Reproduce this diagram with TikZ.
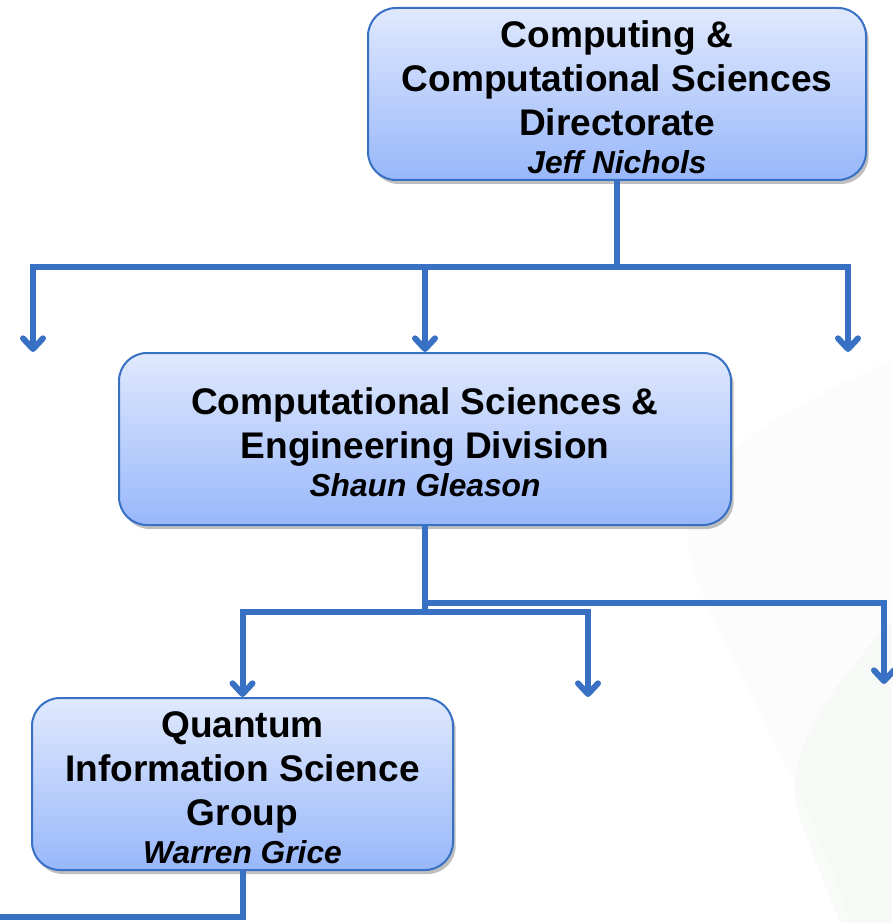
\documentclass[tikz,border=0pt]{standalone}
\usepackage{fontspec}
\setmainfont{Liberation Sans}
\usetikzlibrary{arrows.meta,shadows}
\definecolor{orgblue}{RGB}{56,112,196}
\definecolor{boxtop}{RGB}{224,233,253}
\definecolor{boxbottom}{RGB}{152,183,250}
\definecolor{swoosh}{RGB}{200,216,200}
\newcommand{\unitfont}{\fontsize{27.8}{33}\selectfont\bfseries}
\newcommand{\headname}{\fontsize{23.8}{29}\selectfont\bfseries\itshape}
\newcommand{\topgap}{\rule{0pt}{25pt}}
\tikzset{
  orgbox/.style={draw=orgblue, line width=1.5pt, rounded corners=21pt,
    top color=boxtop, bottom color=boxbottom, minimum height=129pt,
    inner sep=0pt, align=center, font=\unitfont,
    drop shadow={shadow xshift=2pt, shadow yshift=-3pt, opacity=0.25, fill=black}},
  conn/.style={draw=orgblue, line width=4.5pt},
  arr/.style={conn, -{Straight Barb[length=8pt,width=15pt,round]}}
}
\begin{document}
\begin{tikzpicture}[x=0.75pt,y=-0.75pt]
  \useasboundingbox (0,0) rectangle (892,923);
  % faint background swoosh
  \fill[swoosh, opacity=0.07] (892,360) .. controls (760,420) and (650,480) .. (700,590)
    .. controls (760,720) and (820,820) .. (850,923) -- (892,923) -- cycle;
  \fill[swoosh, opacity=0.1] (892,620) .. controls (820,700) and (780,760) .. (800,820)
    .. controls (815,860) and (830,900) .. (840,923) -- (892,923) -- cycle;
  % boxes
  \node[orgbox, minimum width=373.5pt] (dir) at (617,94)
    {\topgap Computing \&\\Computational Sciences\\Directorate\\[-4pt]{\headname Jeff Nichols}};
  \node[orgbox, minimum width=459pt] (csed) at (425,439)
    {\topgap Computational Sciences \&\\Engineering Division\\[-4pt]{\headname Shaun Gleason}};
  \node[orgbox, minimum width=315.75pt] (qis) at (242.5,784)
    {\topgap Quantum\\Information Science\\Group\\[-4pt]{\headname Warren Grice}};
  % free ends
  \coordinate (bus1) at (617,267);
  \coordinate (l1) at (33,352);
  \coordinate (r1) at (848,352);
  \coordinate (bus2) at (425,612);
  \coordinate (bus2b) at (425,603);
  \coordinate (m2) at (588,697);
  \coordinate (r2) at (884,684);
  \coordinate (l3) at (0,917);
  % connectors
  \draw[conn] (dir.south) -- (bus1);
  \draw[arr] (bus1) -| (l1);
  \draw[arr] (bus1) -| (r1);
  \draw[arr] (bus1 -| csed.north) -- (csed.north);
  \draw[conn] (csed.south) -- (bus2);
  \draw[arr] (bus2) -| (qis.north);
  \draw[arr] (bus2) -| (m2);
  \draw[arr] (bus2b) -| (r2);
  \draw[conn] (qis.south) |- (l3);
\end{tikzpicture}
\end{document}
